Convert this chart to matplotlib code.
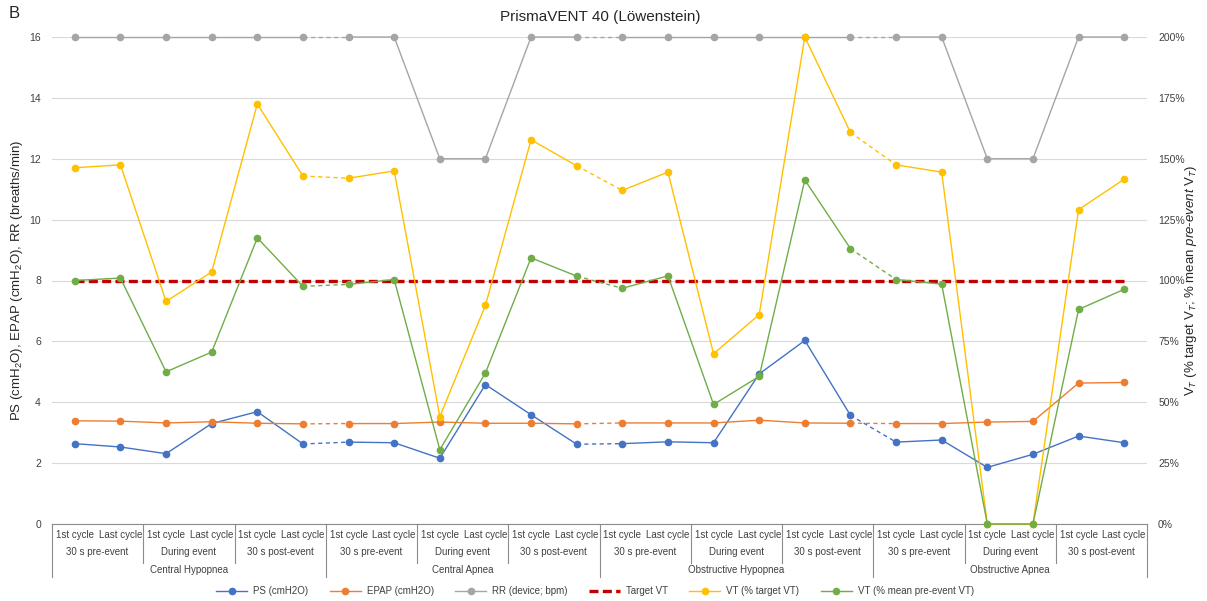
import matplotlib
matplotlib.use('Agg')
import matplotlib.pyplot as plt
from matplotlib.transforms import blended_transform_factory
from matplotlib.lines import Line2D
from matplotlib.ticker import FuncFormatter

plt.rcParams['font.family'] = ['Liberation Sans', 'DejaVu Sans']
plt.rcParams['mathtext.fontset'] = 'custom'
plt.rcParams['mathtext.rm'] = 'Liberation Sans'
plt.rcParams['mathtext.it'] = 'Liberation Sans:italic'

# ---------------- data ----------------
cycles = ['1st cycle', 'Last cycle', '1st cycle', 'Last cycle', '1st cycle', 'Last cycle',
          '1st cycle', 'Last cycle', '1st cycle', 'Last cycle', '1st cycle', 'Last cycle',
          '1st cycle', 'Last cycle', '1st cycle', 'Last cycle', '1st cycle', 'Last cycle',
          '1st cycle', 'Last cycle', '1st cycle', 'Last cycle', '1st cycle', 'Last cycle']
phases = ['30 s pre-event', 'During event', '30 s post-event',
          '30 s pre-event', 'During event', '30 s post-event',
          '30 s pre-event', 'During event', '30 s post-event',
          '30 s pre-event', 'During event', '30 s post-event']
events = ['Central Hypopnea', 'Central Apnea', 'Obstructive Hypopnea', 'Obstructive Apnea']

ps = [2.64, 2.53, 2.31, 3.30, 3.69, 2.63, 2.69, 2.67, 2.16, 4.58, 3.59, 2.62,
      2.64, 2.70, 2.67, 4.93, 6.03, 3.57, 2.69, 2.76, 1.86, 2.29, 2.89, 2.67]
epap = [3.39, 3.38, 3.32, 3.36, 3.31, 3.29, 3.30, 3.30, 3.35, 3.31, 3.31, 3.29,
        3.32, 3.32, 3.32, 3.41, 3.32, 3.31, 3.30, 3.30, 3.35, 3.37, 4.63, 4.65]
rr = [16, 16, 16, 16, 16, 16, 16, 16, 12, 12, 16, 16,
      16, 16, 16, 16, 16, 16, 16, 16, 12, 12, 16, 16]
target_vt = [100, 100, 100, 100, 100, 100, 100, 100, 100, 100, 100, 100,
             100, 100, 100, 100, 100, 100, 100, 100, 100, 100, 100, 100]
vt_target = [146.3, 147.5, 91.4, 103.5, 172.5, 142.9, 142.0, 145.0, 44.1, 89.8, 157.8, 147.1,
             137.0, 144.5, 69.9, 86.0, 200.0, 160.8, 147.5, 144.5, 0.0, 0.0, 129.1, 141.6]
vt_mean = [100.0, 101.0, 62.5, 70.6, 117.5, 97.6, 98.4, 100.4, 30.5, 62.0, 109.3, 101.8,
           96.8, 101.9, 49.1, 60.6, 141.3, 113.1, 100.4, 98.5, 0.0, 0.0, 88.1, 96.4]

C_PS = '#4472C4'
C_EPAP = '#ED7D31'
C_RR = '#A5A5A5'
C_TGT = '#C00000'
C_VT1 = '#FFC000'
C_VT2 = '#70AD47'
TXT = '#404040'
AX_C = '#8C8C8C'

W, H = 1207, 601
fig = plt.figure(figsize=(W / 100, H / 100), dpi=100)
L, R, T, B = 52, 1147, 37, 524
ax = fig.add_axes([L / W, 1 - B / H, (R - L) / W, (B - T) / H])
ax2 = ax.twinx()

n = len(ps)
x = list(range(n))
ax.set_xlim(-0.5, n - 0.5)
ax.set_ylim(0, 16)
ax2.set_ylim(0, 200)

ax.set_yticks(range(0, 17, 2))
ax2.set_yticks(range(0, 201, 25))
ax2.yaxis.set_major_formatter(FuncFormatter(lambda v, p: f'{int(v)}%'))
ax.grid(axis='y', color='#D9D9D9', lw=0.8)
ax.set_axisbelow(True)
ax.set_xticks([])
for a in (ax, ax2):
    for s in a.spines.values():
        s.set_visible(False)
    a.tick_params(axis='y', length=0, labelsize=7.5, labelcolor=TXT)
ax.tick_params(axis='y', pad=8)
ax2.tick_params(axis='y', pad=8)
ax.spines['bottom'].set_visible(True)
ax.spines['bottom'].set_color(AX_C)
ax.spines['bottom'].set_linewidth(0.8)

LW = 1.0
MS = 4.5
TGT_DASH = (0, (2.7, 1.3))
blocks = [(0, 6), (6, 12), (12, 18), (18, 24)]


def draw(axis, vals, color, z):
    for (a, b) in blocks:
        axis.plot(x[a:b], vals[a:b], color=color, lw=LW, marker='o', ms=MS,
                  zorder=z, clip_on=False)
    for (a, b) in blocks[:-1]:
        axis.plot([x[b - 1], x[b]], [vals[b - 1], vals[b]], color=color, lw=LW,
                  ls=(0, (3, 2.5)), zorder=z - 0.1, clip_on=False)


draw(ax, ps, C_PS, 3)
draw(ax, epap, C_EPAP, 3)
draw(ax, rr, C_RR, 3)
ax2.plot(x, target_vt, color=C_TGT, lw=2.4, ls=TGT_DASH, zorder=2)
draw(ax2, vt_target, C_VT1, 3)
draw(ax2, vt_mean, C_VT2, 3)

# labels
ax.set_ylabel('PS (cmH$_2$O), EPAP (cmH$_2$O), RR (breaths/min)', fontsize=9.5,
              color='#262626')
ax.yaxis.set_label_coords((25 - L) / (R - L), 0.5)
ax2.set_ylabel('V$_T$ (% target V$_T$; % mean $\\it{pre}$-$\\it{event}$ V$_T$)', fontsize=9.5,
               color='#262626', rotation=90)
ax2.yaxis.set_label_coords((1183 - L) / (R - L), 0.5)
fig.text(600 / W, 1 - 17 / H, 'PrismaVENT 40 (Löwenstein)', ha='center', va='center',
         fontsize=11, color='#262626')
fig.text(9 / W, 1 - 14 / H, 'B', ha='left', va='center', fontsize=12, color='#262626')

# multi-level category axis
tr = blended_transform_factory(ax.transData, fig.transFigure)


def fy(py):
    return 1 - py / H


short_end = fy(563)
long_end = fy(577)
for i in range(n + 1):
    xs = i - 0.5
    if i % 6 == 0:
        y1 = long_end
    elif i % 2 == 0:
        y1 = short_end
    else:
        continue
    fig.add_artist(Line2D([xs, xs], [fy(B), y1], transform=tr, color=AX_C, lw=0.8))

for i in range(n):
    fig.text(i, fy(535), cycles[i], transform=tr, ha='center', va='center',
             fontsize=7, color=TXT)
for j in range(len(phases)):
    fig.text(2 * j + 0.5, fy(552), phases[j], transform=tr, ha='center', va='center',
             fontsize=7, color=TXT)
for k in range(len(events)):
    fig.text(6 * k + 2.5, fy(570), events[k], transform=tr, ha='center', va='center',
             fontsize=7, color=TXT)

handles = [
    Line2D([], [], color=C_PS, lw=LW, marker='o', ms=MS),
    Line2D([], [], color=C_EPAP, lw=LW, marker='o', ms=MS),
    Line2D([], [], color=C_RR, lw=LW, marker='o', ms=MS),
    Line2D([], [], color=C_TGT, lw=2.4, ls=TGT_DASH),
    Line2D([], [], color=C_VT1, lw=LW, marker='o', ms=MS),
    Line2D([], [], color=C_VT2, lw=LW, marker='o', ms=MS),
]
labels = ['PS (cmH2O)', 'EPAP (cmH2O)', 'RR (device; bpm)', 'Target VT',
          'VT (% target VT)', 'VT (% mean pre-event VT)']
leg = fig.legend(handles, labels, loc='center', bbox_to_anchor=(595 / W, fy(591)),
                 ncol=6, frameon=False, fontsize=7, handlelength=3.2,
                 columnspacing=2.2, handletextpad=0.6)
for t in leg.get_texts():
    t.set_color(TXT)

fig.savefig('out.png', dpi=100, facecolor='white')
